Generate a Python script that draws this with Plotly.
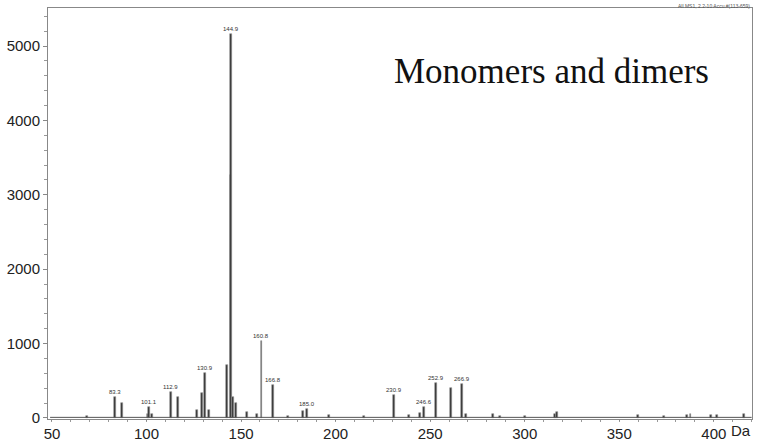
import plotly.graph_objects as go

# ---- data (m/z in Da, intensity in counts) ----
peak_mz = [68.5, 83.3, 87.2, 100.6, 101.1, 102.8, 112.9, 116.7, 126.5, 129.2, 130.9, 133.0,
           142.5, 144.4, 144.9, 145.9, 147.1, 153.0, 158.4, 160.8, 166.8, 174.6, 182.9, 185.0,
           196.5, 215.0, 230.9, 239.0, 244.6, 246.6, 252.9, 260.9, 266.9, 269.0, 283.4, 287.0,
           300.0, 316.0, 317.0, 359.9, 373.6, 385.6, 387.7, 398.3, 401.5, 416.0]
peak_int = [30, 280, 200, 60, 150, 60, 350, 285, 105, 335, 610, 110,
            712, 3260, 5160, 285, 200, 80, 60, 1030, 440, 30, 95, 125,
            35, 25, 305, 40, 70, 150, 470, 400, 455, 50, 55, 30,
            20, 60, 85, 40, 20, 40, 50, 40, 45, 60]

label_mz = [83.3, 101.1, 112.9, 130.9, 144.9, 160.8, 166.8, 185.0, 230.9, 246.6, 252.9, 266.9]
label_int = [280, 150, 350, 610, 5160, 1030, 440, 125, 305, 150, 470, 455]
label_text = ["83.3", "101.1", "112.9", "130.9", "144.9", "160.8", "166.8", "185.0",
              "230.9", "246.6", "252.9", "266.9"]

baseline_mz = [49, 420]
baseline_int = [8, 8]

x_ticks = [50, 100, 150, 200, 250, 300, 350, 400]
y_ticks = [0, 1000, 2000, 3000, 4000, 5000]

fig = go.Figure()
fig.add_trace(go.Scatter(x=baseline_mz, y=baseline_int, mode="lines",
                         line=dict(color="#555555", width=1), hoverinfo="skip"))
fig.add_trace(go.Bar(x=peak_mz, y=peak_int, width=1.0,
                     marker=dict(color="#333333", line=dict(width=0.6, color="#999999"))))

for mz, it, t in zip(label_mz, label_int, label_text):
    fig.add_annotation(x=mz, y=it, text=t, showarrow=False, yanchor="bottom", yshift=0,
                       font=dict(family="Liberation Sans, Arial", size=6, color="#333333"))

fig.add_annotation(xref="paper", yref="paper", x=0.715, y=0.845, text="Monomers and dimers",
                   showarrow=False, xanchor="center", yanchor="middle",
                   font=dict(family="Liberation Serif, Times New Roman", size=35, color="#111111"))
fig.add_annotation(xref="paper", yref="paper", x=1.0, y=1.0, text="All MS1, 2.2-10 Accu.#(113-659)",
                   showarrow=False, xanchor="right", yanchor="bottom", yshift=-3,
                   font=dict(family="Liberation Sans, Arial", size=5, color="#555555"))
fig.add_annotation(xref="paper", yref="paper", x=0.984, y=0, text="Da", showarrow=False,
                   xanchor="center", yanchor="top", yshift=-1,
                   font=dict(family="Liberation Sans, Arial", size=15, color="#222222"))

axis_common = dict(showgrid=False, zeroline=False, showline=True, linecolor="#888888",
                   linewidth=1, mirror=True, ticks="outside", tickcolor="#888888",
                   automargin=False,
                   tickfont=dict(family="Liberation Sans, Arial", size=15, color="#222222"))

fig.update_xaxes(range=[47.9, 420.2], tickvals=x_ticks, ticklen=1,
                 minor=dict(dtick=10, ticks="outside", ticklen=2, tickcolor="#999999"),
                 **axis_common)
fig.update_yaxes(range=[-14, 5511], tickvals=y_ticks, ticklen=4,
                 minor=dict(dtick=200, ticks="outside", ticklen=3, tickcolor="#999999"),
                 **axis_common)

fig.update_layout(width=757, height=441, margin=dict(l=48, r=5, t=8, b=22),
                  plot_bgcolor="white", paper_bgcolor="white", showlegend=False,
                  bargap=0)

fig.write_html("out.html", config={"displayModeBar": False},
               post_script="document.body.style.margin='0';document.body.style.overflow='hidden';")
